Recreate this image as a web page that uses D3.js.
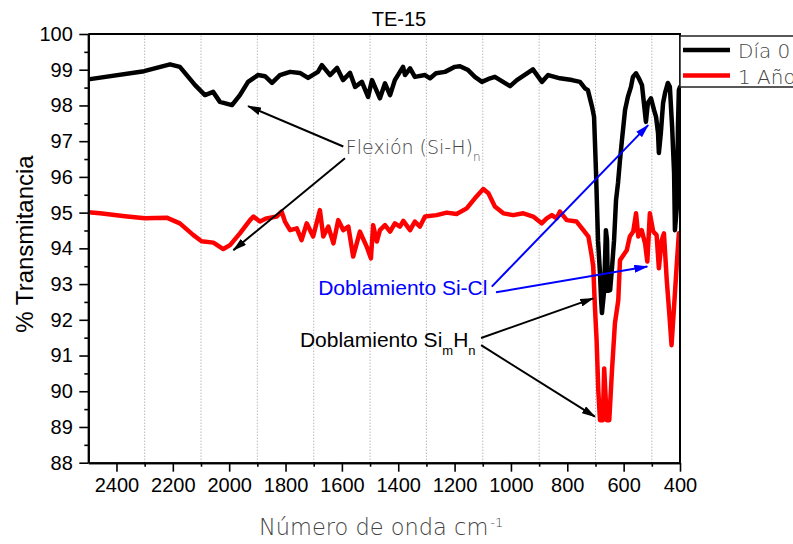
<!DOCTYPE html>
<html>
<head>
<meta charset="utf-8">
<script src="https://cdn.jsdelivr.net/npm/d3@7"></script>
<style>
body { margin: 0; background: #fff; }
svg { display: block; }
</style>
</head>
<body>
<div id="chart"></div>
<script>
// series (wavenumber cm-1, % transmitance)
const seriesNames = ["Día 0", "1 Año"];
const seriesColors = ["#000000", "#ff0000"];

const dia0Wn = [2500, 2302, 2210, 2175, 2121, 2086, 2057, 2033, 1990, 1962,
	1933, 1898, 1873, 1848, 1820, 1784, 1749, 1720, 1685, 1671,
	1642, 1617, 1596, 1571, 1553, 1529, 1507, 1493, 1475, 1465,
	1447, 1429, 1412, 1394, 1383, 1376, 1358, 1341, 1305, 1287,
	1266, 1234, 1199, 1181, 1152, 1128, 1103, 1074, 1057, 1028,
	1003, 979, 943, 922, 890, 868, 826, 783, 755, 737,
	727, 712, 705, 698, 691, 684, 680, 677, 670, 666,
	663, 659, 656, 648, 641, 634, 627, 620, 613, 606,
	595, 585, 574, 567, 556, 546, 535, 528, 521, 514,
	503, 492, 485, 478, 475, 468, 460, 453, 443, 436,
	428, 421, 418, 411, 407, 404, 400];
const dia0T = [98.73, 98.96, 99.15, 99.08, 98.57, 98.29, 98.38, 98.10, 98.01, 98.29,
	98.66, 98.85, 98.82, 98.63, 98.85, 98.94, 98.91, 98.77, 98.94, 99.13,
	98.85, 99.05, 98.71, 98.91, 98.52, 98.66, 98.24, 98.71, 98.38, 98.20,
	98.62, 98.29, 98.71, 98.94, 99.08, 98.85, 99.04, 98.80, 98.85, 98.76,
	98.90, 98.94, 99.08, 99.10, 98.99, 98.80, 98.66, 98.76, 98.80, 98.66,
	98.54, 98.71, 98.90, 99.01, 98.66, 98.85, 98.76, 98.71, 98.66, 98.48,
	98.43, 97.96, 97.68, 96.11, 94.23, 93.31, 92.55, 92.19, 92.75, 93.67,
	94.51, 94.23, 92.81, 92.83, 93.49, 94.23, 95.35, 95.83, 96.47, 97.03,
	97.87, 98.24, 98.52, 98.80, 98.90, 98.76, 98.57, 98.06, 97.54, 98.07,
	98.20, 97.87, 97.68, 97.23, 96.67, 97.23, 98.07, 98.35, 98.63, 98.52,
	97.40, 96.11, 94.51, 95.17, 97.51, 98.43, 98.52];

const anoWn = [2500, 2458, 2370, 2299, 2222, 2175, 2127, 2098, 2056, 2021,
	1997, 1962, 1926, 1914, 1891, 1867, 1831, 1814, 1802, 1784,
	1760, 1743, 1725, 1702, 1678, 1666, 1648, 1630, 1613, 1595,
	1577, 1560, 1536, 1512, 1497, 1489, 1476, 1465, 1447, 1429,
	1412, 1394, 1382, 1358, 1341, 1323, 1305, 1264, 1228, 1193,
	1157, 1128, 1098, 1080, 1057, 1027, 992, 956, 921, 891,
	873, 855, 838, 826, 802, 767, 743, 725, 713, 708,
	702, 696, 690, 684, 674, 669, 660, 651, 642, 631,
	619, 613, 601, 589, 578, 566, 556, 548, 536, 524,
	516, 507, 495, 483, 475, 465, 457, 447, 438, 430,
	421, 412, 404];
const anoT = [95.01, 94.98, 94.90, 94.84, 94.86, 94.70, 94.37, 94.20, 94.16, 93.98,
	94.09, 94.42, 94.79, 94.89, 94.75, 94.84, 94.89, 95.03, 94.75, 94.51,
	94.56, 94.23, 94.70, 94.33, 95.07, 94.33, 94.61, 94.14, 94.79, 94.51,
	94.61, 93.77, 94.47, 94.05, 93.72, 94.65, 94.19, 94.51, 94.65, 94.47,
	94.70, 94.61, 94.77, 94.51, 94.75, 94.61, 94.89, 94.93, 95.00, 94.96,
	95.12, 95.40, 95.66, 95.54, 95.17, 94.98, 94.93, 94.98, 94.89, 94.70,
	94.84, 94.93, 94.84, 95.03, 94.79, 94.75, 94.51, 94.33, 93.77, 93.49,
	92.37, 91.43, 90.03, 89.19, 89.19, 90.64, 89.19, 89.19, 90.50, 91.90,
	92.55, 93.67, 93.81, 93.95, 94.33, 94.47, 94.98, 94.33, 94.51, 94.14,
	93.63, 94.98, 94.47, 94.37, 93.44, 94.23, 94.42, 93.11, 92.18, 91.29,
	92.37, 93.49, 94.42];

const xTicks = [2400, 2200, 2000, 1800, 1600, 1400, 1200, 1000, 800, 600, 400];
const xMinorTicks = [2300, 2100, 1900, 1700, 1500, 1300, 1100, 900, 700, 500];
const yTicks = [88, 89, 90, 91, 92, 93, 94, 95, 96, 97, 98, 99, 100];
const yMinorTicks = [88.5, 89.5, 90.5, 91.5, 92.5, 93.5, 94.5, 95.5, 96.5, 97.5, 98.5, 99.5];

// annotations, anchored in data space [wavenumber, T]
const flexionArrows = [[[1595, 96.85], [1933, 97.98]], [[1589, 96.52], [1985, 93.95]]];
const siclArrows = [[[1068, 92.93], [513, 97.45]], [[1053, 92.77], [516, 93.49]]];
const simhnArrows = [[[1106, 91.49], [708, 92.60]], [[1106, 91.29], [702, 89.29]]];

const width = 793, height = 544;
const margin = {top: 34, left: 88.3, right: 113, bottom: 81.3};
const lightFont = "'DejaVu Sans', sans-serif";
const arialFont = "'Liberation Sans', Arial, sans-serif";

const x = d3.scaleLinear().domain([2500, 400]).range([margin.left, width - margin.right]);
const y = d3.scaleLinear().domain([88, 100]).range([height - margin.bottom, margin.top]);

const svg = d3.select("#chart").append("svg")
	.attr("width", width)
	.attr("height", height);

const defs = svg.append("defs");
[["arrowBlack", "#000"], ["arrowBlue", "#0000ff"]].forEach(function(m){
	defs.append("marker")
		.attr("id", m[0])
		.attr("viewBox", "0 0 14 8")
		.attr("refX", 13)
		.attr("refY", 4)
		.attr("markerUnits", "userSpaceOnUse")
		.attr("markerWidth", 14)
		.attr("markerHeight", 8)
		.attr("orient", "auto")
		.append("path")
		.attr("d", "M0,0 L14,4 L0,8 Z")
		.attr("fill", m[1]);
});

// dotted vertical grid at minor positions
svg.append("g")
	.selectAll("line")
	.data(xMinorTicks)
	.join("line")
	.attr("x1", d => x(d)).attr("x2", d => x(d))
	.attr("y1", y(88)).attr("y2", y(100))
	.attr("stroke", "#999")
	.attr("stroke-width", 1)
	.attr("stroke-dasharray", "1,2");

// curves
const line = d3.line().x(d => x(d[0])).y(d => y(d[1]));
const series = [d3.zip(dia0Wn, dia0T), d3.zip(anoWn, anoT)];
svg.append("defs").append("clipPath").attr("id", "plotClip")
	.append("rect")
	.attr("x", x(2500)).attr("y", y(100) - 3)
	.attr("width", x(400) - x(2500)).attr("height", y(88) - y(100) + 6);

svg.append("g")
	.attr("clip-path", "url(#plotClip)")
	.selectAll("path")
	.data(series)
	.join("path")
	.attr("d", line)
	.attr("fill", "none")
	.attr("stroke", (d, i) => seriesColors[i])
	.attr("stroke-width", 4.5)
	.attr("stroke-linejoin", "round")
	.attr("stroke-linecap", "round");

// axes
const yAxis = d3.axisLeft(y).tickValues(yTicks).tickFormat(d3.format("d"))
	.tickSize(9).tickSizeOuter(0).tickPadding(6.5);
const yMinor = d3.axisLeft(y).tickValues(yMinorTicks).tickFormat("").tickSize(4).tickSizeOuter(0);
const xAxis = d3.axisBottom(x).tickValues(xTicks).tickFormat(d3.format("d"))
	.tickSize(9).tickSizeOuter(0).tickPadding(6.3);
const xMinor = d3.axisBottom(x).tickValues(xMinorTicks).tickFormat("").tickSize(4).tickSizeOuter(0);

function styleAxis(g){
	g.select(".domain").attr("stroke", "#000").attr("stroke-width", 2);
	g.selectAll(".tick line").attr("stroke", "#000").attr("stroke-width", 1.6);
	g.selectAll(".tick text")
		.attr("fill", "#000")
		.style("font-family", arialFont)
		.style("font-size", "20px");
}

svg.append("g").attr("transform", `translate(${margin.left},0)`).call(yMinor).call(styleAxis);
svg.append("g").attr("transform", `translate(${margin.left},0)`).call(yAxis).call(styleAxis);
svg.append("g").attr("transform", `translate(0,${y(88)})`).call(xMinor).call(styleAxis);
svg.append("g").attr("transform", `translate(0,${y(88)})`).call(xAxis).call(styleAxis);

// top and right frame
svg.append("path")
	.attr("d", `M${x(2500)},${y(100)} H${x(400)} V${y(88)}`)
	.attr("fill", "none")
	.attr("stroke", "#000")
	.attr("stroke-width", 2);

// title and axis titles
svg.append("text")
	.attr("x", 399).attr("y", 26)
	.attr("text-anchor", "middle")
	.style("font-family", arialFont)
	.style("font-size", "20px")
	.text("TE-15");

svg.append("text")
	.attr("transform", "translate(33,244) rotate(-90)")
	.attr("text-anchor", "middle")
	.style("font-family", arialFont)
	.style("font-size", "24px")
	.text("% Transmitancia");

const xTitle = svg.append("text")
	.attr("x", 259).attr("y", 535)
	.attr("fill", "#444")
	.style("font-family", lightFont)
	.style("font-weight", 300)
	.style("font-size", "22.5px");
xTitle.append("tspan").text("Número de onda cm");
xTitle.append("tspan").attr("dx", 2).attr("dy", -8).style("font-size", "13px").text("-1");

// legend
const legend = svg.append("g").attr("transform", `translate(${x(400)},36)`);
legend.append("rect")
	.attr("width", 130).attr("height", 51)
	.attr("fill", "#fff")
	.attr("stroke", "#222")
	.attr("stroke-width", 1.5);
seriesNames.forEach(function(name, i){
	const row = legend.append("g").attr("transform", `translate(0,${14 + i * 25.5})`);
	row.append("line")
		.attr("x1", 3).attr("x2", 50)
		.attr("stroke", seriesColors[i])
		.attr("stroke-width", 4.5);
	row.append("text")
		.attr("x", 58).attr("y", 8)
		.attr("fill", "#444")
		.style("font-family", lightFont)
		.style("font-weight", 300)
		.style("font-size", "20px")
		.text(name);
});

// annotations
function drawArrows(list, color, marker){
	svg.append("g")
		.selectAll("line")
		.data(list)
		.join("line")
		.attr("x1", d => x(d[0][0])).attr("y1", d => y(d[0][1]))
		.attr("x2", d => x(d[1][0])).attr("y2", d => y(d[1][1]))
		.attr("stroke", color)
		.attr("stroke-width", 2)
		.attr("marker-end", `url(#${marker})`);
}
drawArrows(flexionArrows, "#000", "arrowBlack");
drawArrows(siclArrows, "#0000ff", "arrowBlue");
drawArrows(simhnArrows, "#000", "arrowBlack");

const flex = svg.append("text")
	.attr("x", x(1586)).attr("y", y(96.64))
	.attr("fill", "#444")
	.style("font-family", lightFont)
	.style("font-weight", 300)
	.style("font-size", "19px");
flex.append("tspan").text("Flexión (Si-H)");
flex.append("tspan").attr("dy", 7).style("font-size", "12px").text("n");

svg.append("text")
	.attr("x", x(1684)).attr("y", y(92.70))
	.attr("fill", "#0000ff")
	.style("font-family", arialFont)
	.style("font-size", "21px")
	.text("Doblamiento Si-Cl");

const simhn = svg.append("text")
	.attr("x", x(1749)).attr("y", y(91.23))
	.attr("fill", "#000")
	.style("font-family", arialFont)
	.style("font-size", "21px");
simhn.append("tspan").text("Doblamiento Si");
simhn.append("tspan").attr("dy", 8).style("font-size", "13px").text("m");
simhn.append("tspan").attr("dy", -8).text("H");
simhn.append("tspan").attr("dy", 8).style("font-size", "13px").text("n");
</script>
</body>
</html>
